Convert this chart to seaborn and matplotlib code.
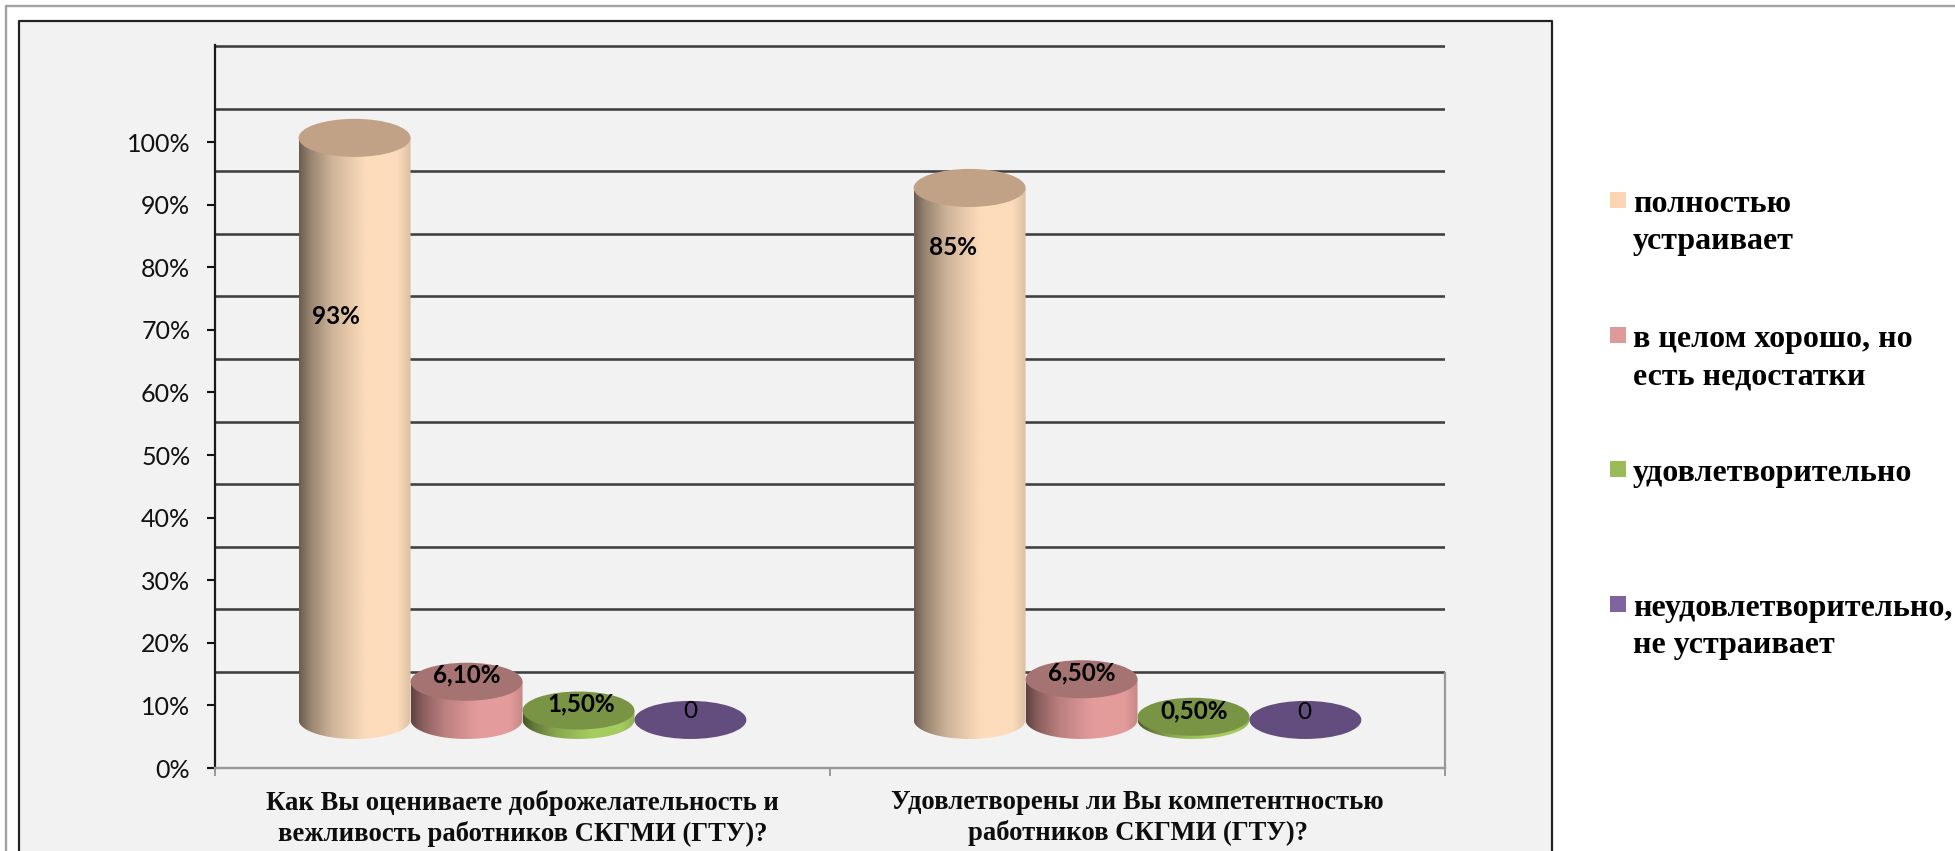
import numpy as np
import pandas as pd
import matplotlib
matplotlib.use("Agg")
import matplotlib.pyplot as plt
from matplotlib.colors import to_rgb
from matplotlib.patches import Ellipse, PathPatch, Rectangle
from matplotlib.path import Path
from matplotlib.lines import Line2D
import seaborn as sns

questions = ["Как Вы оцениваете доброжелательность и\nвежливость работников СКГМИ (ГТУ)?",
             "Удовлетворены ли Вы компетентностью\nработников СКГМИ (ГТУ)?"]
responses = ["полностью\nустраивает", "в целом хорошо, но\nесть недостатки",
             "удовлетворительно", "неудовлетворительно,\nне устраивает"]
values_q1 = [93, 6.1, 1.5, 0]
values_q2 = [85, 6.5, 0.5, 0]
labels_q1 = ["93%", "6,10%", "1,50%", "0"]
labels_q2 = ["85%", "6,50%", "0,50%", "0"]
y_ticks = list(range(0, 101, 10))
y_tick_labels = [f"{v}%" for v in y_ticks]

W, H, DPI = 1955, 851, 100
PX = 72 / DPI
legend_colors = ["#fcd5b5", "#dd9a99", "#9bbb59", "#8064a2"]
body_colors = ["#fddcbb", "#e49c9b", "#a6cc5f", "#8064a2"]
top_colors = ["#c1a287", "#a67373", "#7a9446", "#634c7e"]
AX_LEFT, AX_RIGHT, AX_TOP, AX_BOTTOM = 215, 1445, 45, 768
FLOOR = 7.68          # front-row base of the 3-D columns, in axis units
BACK_WALL = 15.36     # level of the back-wall floor, in axis units
CAP = 3.04            # ellipse half height, in axis units
GRID = [BACK_WALL + 10 * k for k in range(11)]
label_shift_q1 = [(-19, -179), (0, 7), (3, 7), (0, 8)]
label_shift_q2 = [(-17, -60), (0, 6), (1, 6), (-1, 7)]

sns.set_theme(style="white")
plt.rcParams["font.family"] = ["Lato", "DejaVu Sans"]

df = pd.DataFrame({
    "question": np.repeat(questions, 4),
    "response": responses * 2,
    "value": values_q1 + values_q2,
})

fig = plt.figure(figsize=(W / DPI, H / DPI), dpi=DPI, facecolor="white")


def fx(px):
    return px / W


def fy(px):
    return 1 - px / H


# outer grey frame and chart panel (both run off the bottom of the picture)
fig.add_artist(Line2D([fx(6), fx(6)], [fy(H), fy(6)], color="#a3a3a3", lw=2.4 * PX, zorder=-2))
fig.add_artist(Line2D([fx(6), fx(W)], [fy(6), fy(6)], color="#a3a3a3", lw=2.4 * PX, zorder=-2))
fig.add_artist(Rectangle((fx(19), 0), fx(1552 - 19), fy(21), transform=fig.transFigure,
                         facecolor="#f2f2f2", edgecolor="none", zorder=-2))
fig.add_artist(Line2D([fx(19), fx(19), fx(1552), fx(1552)], [0, fy(21), fy(21), 0],
                      color="#222222", lw=2.2 * PX, zorder=-1))

ax = fig.add_axes([fx(AX_LEFT), fy(AX_BOTTOM), fx(AX_RIGHT - AX_LEFT), (AX_BOTTOM - AX_TOP) / H])
ax.set_facecolor("none")
sns.barplot(data=df, x="question", y="value", hue="response", hue_order=responses,
            order=questions, palette=legend_colors, width=0.728, gap=0, dodge=True,
            legend=False, ax=ax)

stops = np.array([0, .10, .30, .60, .88, 1.0])
shade = np.array([.42, .60, .82, 1.0, 1.0, .87])
ramp_t = np.linspace(0, 1, 256)
ramp = np.interp(ramp_t, stops, shade)

all_labels = [labels_q1, labels_q2]
all_shifts = [label_shift_q1, label_shift_q2]
bars = list(ax.patches)
for i, bar in enumerate(bars):
    s = i // 2                # hue index
    c = i % 2                 # category index
    bar.set_visible(False)
    x0, w, h = bar.get_x(), bar.get_width(), bar.get_height()
    xc = x0 + w / 2
    top = FLOOR + h
    if h > 0:
        verts = [(x0, top), (x0, FLOOR)]
        tt = np.linspace(np.pi, 2 * np.pi, 60)
        verts += [(xc + w / 2 * np.cos(a), FLOOR + CAP * np.sin(a)) for a in tt]
        verts += [(x0 + w, top), (x0, top)]
        path = Path(verts)
        body = PathPatch(path, facecolor="none", edgecolor="none", zorder=3 + s * 0.1)
        ax.add_patch(body)
        img = np.clip(np.outer(ramp, to_rgb(body_colors[s])), 0, 1)[None, :, :]
        im = ax.imshow(img, extent=(x0, x0 + w, FLOOR - CAP, top), aspect="auto",
                       zorder=3 + s * 0.1, interpolation="bilinear")
        im.set_clip_path(body)
    ax.add_patch(Ellipse((xc, top), w, 2 * CAP, facecolor=top_colors[s], edgecolor="none",
                         zorder=3.05 + s * 0.1))
    dx, dy = all_shifts[c][s]
    ax.annotate(all_labels[c][s], (xc, top), xytext=(dx * PX, dy * PX),
                textcoords="offset points", ha="center", va="center",
                fontsize=17.5, color="black", zorder=6,
                fontweight="normal" if all_labels[c][s] == "0" else "bold")

ax.set_xlim(-0.5, 1.5)
ax.set_ylim(0, (767 - 45) / 6.25)
ax.set_xlabel("")
ax.set_ylabel("")

ax.set_yticks(y_ticks, y_tick_labels)
ax.set_yticks(GRID, minor=True)
ax.tick_params(axis="y", which="major", left=True, length=8 * 0.72, width=1.5, color="#111111",
               labelsize=18, labelcolor="#111111", pad=12)
ax.tick_params(axis="y", which="minor", left=False, length=0)
ax.grid(False)
ax.grid(axis="y", which="minor", color="#404040", lw=2.6 * PX)
ax.set_axisbelow(True)

ax.set_xticks([0, 1], questions)
ax.set_xticks([-0.5, 0.5, 1.5], minor=True)
ax.tick_params(axis="x", which="major", bottom=False, pad=9.5)
ax.tick_params(axis="x", which="minor", bottom=True, length=8 * 0.72, width=1.4, color="#999999")
for t in ax.get_xticklabels():
    t.set_family("Liberation Serif")
    t.set_fontweight("bold")
    t.set_fontsize(19.2)
    t.set_color("#0d0d0d")
    t.set_linespacing(1.27)

for name, sp in ax.spines.items():
    sp.set_visible(name in ("left", "bottom"))
ax.spines["left"].set_color("#1a1a1a")
ax.spines["left"].set_linewidth(2.2 * PX)
ax.spines["bottom"].set_color("#999999")
ax.spines["bottom"].set_linewidth(2.4 * PX)
ax.vlines(1.5, 0, BACK_WALL, color="#999999", lw=2.2 * PX, clip_on=False)

# legend: one swatch and text block per response
legend_tops = [192, 327, 461, 596]
for lab, col, top_px in zip(responses, legend_colors, legend_tops):
    fig.add_artist(Rectangle((fx(1610), fy(top_px + 16)), fx(16), 16 / H,
                             transform=fig.transFigure, facecolor=col, edgecolor="none"))
    fig.text(fx(1633), fy(top_px - 2), lab, ha="left", va="top", family="Liberation Serif",
             fontweight="bold", fontsize=23, color="black", linespacing=1.37)

fig.savefig("out.png", dpi=DPI, facecolor="white")
